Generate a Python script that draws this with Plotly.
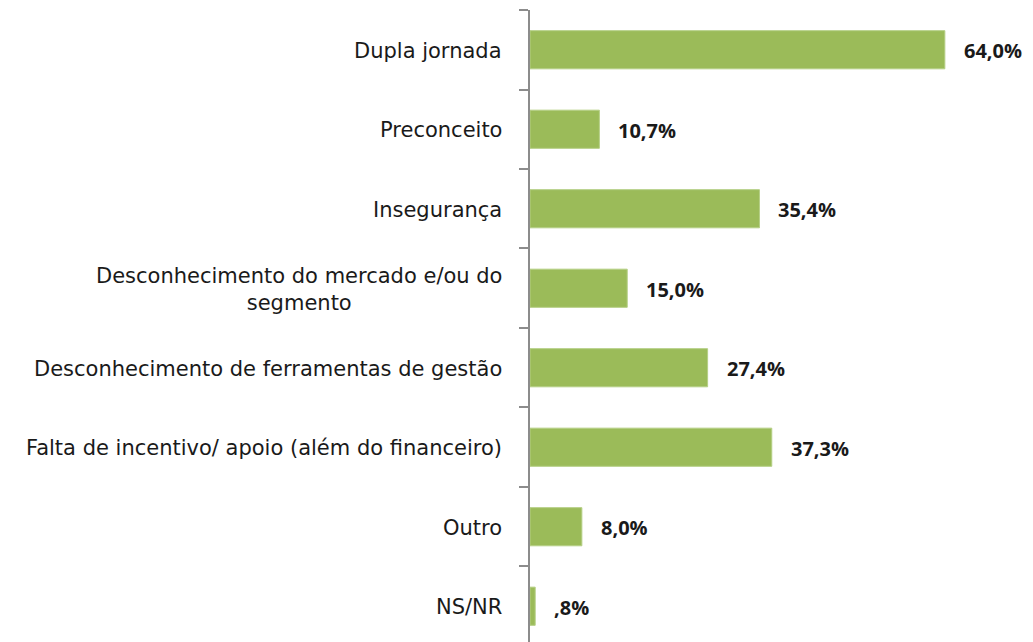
import plotly.graph_objects as go

# data
categories = [
    "Dupla jornada",
    "Preconceito",
    "Insegurança",
    "Desconhecimento do mercado e/ou do<br>segmento",
    "Desconhecimento de ferramentas de gestão",
    "Falta de incentivo/ apoio (além do financeiro)",
    "Outro",
    "NS/NR",
]
values = [64.0, 10.7, 35.4, 15.0, 27.4, 37.3, 8.0, 0.8]
value_labels = ["64,0%", "10,7%", "35,4%", "15,0%", "27,4%", "37,3%", "8,0%", ",8%"]

BAR_COLOR = "#9BBB59"
AXIS_COLOR = "#8C8C8C"
LABEL_FONT = "DejaVu Sans"
VALUE_FONT = "Open Sans"


def create_plot():
    fig = go.Figure()
    fig.add_trace(go.Bar(
        x=values,
        y=categories,
        orientation="h",
        marker=dict(color=BAR_COLOR, line=dict(color="#B5CF85", width=1)),
        width=0.48,
        hoverinfo="skip",
    ))

    # value labels to the right of each bar
    for cat, val, lab in zip(categories, values, value_labels):
        fig.add_annotation(
            x=val, y=cat, xref="x", yref="y",
            text="<b>" + lab + "</b>", showarrow=False,
            xanchor="left", xshift=17, yshift=-1,
            font=dict(family=VALUE_FONT, size=20, color="#1a1a1a"),
        )

    # category labels, centred lines, right edge next to the axis
    for cat in categories:
        fig.add_annotation(
            x=0, y=cat, xref="paper", yref="y",
            text=cat, showarrow=False,
            xanchor="right", xshift=-26, yshift=-1, align="center",
            font=dict(family=LABEL_FONT, size=21, color="#1a1a1a"),
        )

    # page body adds an 8px offset, so the figure is trimmed to match
    fig.update_layout(
        width=1025,
        height=634,
        margin=dict(l=522, r=0, t=2, b=0),
        plot_bgcolor="white",
        paper_bgcolor="white",
        showlegend=False,
        xaxis=dict(
            range=[0, 77.6],
            visible=False,
        ),
        yaxis=dict(
            type="category",
            range=[7.45, -0.5],
            showticklabels=False,
            showline=True,
            linecolor=AXIS_COLOR,
            linewidth=2,
            ticks="outside",
            tickson="boundaries",
            ticklen=9,
            tickcolor=AXIS_COLOR,
            tickwidth=2,
            showgrid=False,
            zeroline=False,
        ),
    )
    return fig


if __name__ == "__main__":
    fig = create_plot()
    fig.write_html("out.html")
